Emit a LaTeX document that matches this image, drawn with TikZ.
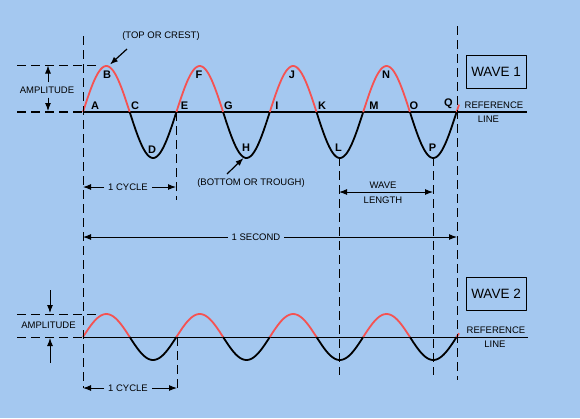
\documentclass[tikz,border=0pt]{standalone}
\usepackage{fontspec}
\setmainfont{Liberation Sans}
\usetikzlibrary{arrows.meta, positioning, calc}
\definecolor{SkyBg}{RGB}{164,200,240}
\definecolor{CrestRed}{RGB}{245,82,82}
\tikzset{every path/.style={line join=round}, >={Latex[length=8pt, width=6pt]}}

\begin{document}
\begin{tikzpicture}[
    x=1pt, y=-1pt,
    font=\fontsize{9.5}{10}\selectfont,
    letter/.style={font=\fontsize{11}{12}\selectfont\bfseries, inner sep=0pt},
    tag/.style={inner sep=0pt},
    label/.style={inner sep=4pt},
    wavebox/.style={draw, line width=1pt, minimum width=60pt, minimum height=33pt,
        inner sep=0pt, font=\fontsize{13.5}{14}\selectfont},
    guide/.style={dash pattern=on 9pt off 5pt, line width=1pt},
    flow/.style={->, line width=1pt},
    crest/.style={draw=CrestRed, line width=1.8pt},
    trough/.style={draw=black, line width=1.8pt},
    refline/.style={line width=1.8pt}
]

\fill[SkyBg] (0,0) rectangle (580,418);
\useasboundingbox (0,0) rectangle (580,418);

% wave 1
\coordinate (oneA) at (83,112);
\coordinate (oneEnd) at (527,112);
\draw[refline] (oneA) -- (oneEnd);
\foreach \k in {0,...,3}{
    \pgfmathsetmacro\xa{83+93.4*\k}
    \pgfmathsetmacro\xb{\xa+46.7}
    \pgfmathsetmacro\xc{\xa+93.4}
    \draw[crest] plot[domain=\xa:\xb, samples=30] (\x, {112-46*sin(3.8544*(\x-83))});
    \draw[trough] plot[domain=\xb:\xc, samples=30] (\x, {112-46*sin(3.8544*(\x-83))});
}
\draw[crest] plot[domain=456.6:459, samples=4] (\x, {112-46*sin(3.8544*(\x-83))});

% wave 2
\coordinate (twoA) at (83,337);
\coordinate (twoEnd) at (528,337);
\draw[line width=1pt] (twoA) -- (twoEnd);
\foreach \k in {0,...,3}{
    \pgfmathsetmacro\xa{83+93.4*\k}
    \pgfmathsetmacro\xb{\xa+46.7}
    \pgfmathsetmacro\xc{\xa+93.4}
    \draw[crest] plot[domain=\xa:\xb, samples=30] (\x, {337-23*sin(3.8544*(\x-83))});
    \draw[trough] plot[domain=\xb:\xc, samples=30] (\x, {337-23*sin(3.8544*(\x-83))});
}
\draw[crest] plot[domain=456.6:459, samples=4] (\x, {337-23*sin(3.8544*(\x-83))});

% guide lines
\coordinate (gA1) at (83,36);   \coordinate (gA2) at (83,388);
\coordinate (gE1) at (176,112); \coordinate (gE2) at (176,200);
\coordinate (gL1) at (339,157); \coordinate (gL2) at (339,375);
\coordinate (gP1) at (433,157); \coordinate (gP2) at (433,375);
\coordinate (gQ1) at (457,26);  \coordinate (gQ2) at (457,380);
\coordinate (gC1) at (177,337); \coordinate (gC2) at (177,388);
\draw[guide] (gA1) -- (gA2);
\draw[guide] (gE1) -- (gE2);
\draw[guide] (gL1) -- (gL2);
\draw[guide] (gP1) -- (gP2);
\draw[guide] (gQ1) -- (gQ2);
\draw[guide] (gC1) -- (gC2);

% amplitude guides
\coordinate (ampTopL) at (17,65);  \coordinate (ampTopR) at (100,65);
\coordinate (ampBotL) at (17,112);
\draw[guide] (ampTopL) -- (ampTopR);
\draw[guide, line width=2pt] (ampBotL) -- (oneA);
\coordinate (ampTwoTopL) at (17,314); \coordinate (ampTwoTopR) at (97,314);
\coordinate (ampTwoBotL) at (17,337);
\draw[guide] (ampTwoTopL) -- (ampTwoTopR);
\draw[guide] (ampTwoBotL) -- (twoA);

% letters
\node[letter] (ptA) at (95,106) {A};
\node[letter] (ptB) at (107,75) {B};
\node[letter] (ptC) at (135,106) {C};
\node[letter] (ptD) at (152,150) {D};
\node[letter] (ptE) at (184.5,106) {E};
\node[letter] (ptF) at (199,74.5) {F};
\node[letter] (ptG) at (228.5,105.5) {G};
\node[letter] (ptH) at (246,148) {H};
\node[letter] (ptI) at (277,105.5) {I};
\node[letter] (ptJ) at (292,74.5) {J};
\node[letter] (ptK) at (322,105.5) {K};
\node[letter] (ptL) at (338.5,148) {L};
\node[letter] (ptM) at (374,105.5) {M};
\node[letter] (ptN) at (386,75) {N};
\node[letter] (ptO) at (414,106) {O};
\node[letter] (ptP) at (432.5,147.5) {P};
\node[letter] (ptQ) at (448.5,104) {Q};

% crest and trough notes
\node[tag] (crestNote) at (161,36) {(TOP OR CREST)};
\coordinate (crestTip) at (110,64.5);
\draw[flow, line width=1.2pt] (127,49) -- (crestTip);
\node[tag] (troughNote) at (251,183) {(BOTTOM OR TROUGH)};
\coordinate (troughTip) at (243.5,158);
\draw[flow, line width=1.2pt] (227,174) -- (troughTip);

% amplitude wave 1
\node[label] (ampOne) at (47,90) {AMPLITUDE};
\coordinate (ampOneTop) at (48,65.5);
\coordinate (ampOneBot) at (48,111);
\draw[flow] (ampOne.north -| ampOneTop) -- (ampOneTop);
\draw[flow] (ampOne.south -| ampOneBot) -- (ampOneBot);

% amplitude wave 2
\node[tag] (ampTwo) at (48.5,325.5) {AMPLITUDE};
\coordinate (ampTwoIn) at (50,313);
\coordinate (ampTwoOut) at (50,338);
\draw[flow] (50,290) -- (ampTwoIn);
\draw[flow] (50,363) -- (ampTwoOut);

% cycle, wave length, second
\coordinate (cycA) at (83,187);  \coordinate (cycE) at (176,187);
\node[label] (cycleOne) at (128,187) {1 CYCLE};
\draw[flow] (cycleOne) -- (cycA);
\draw[flow] (cycleOne) -- (cycE);

\coordinate (wlL) at (339,192);  \coordinate (wlP) at (433,192);
\draw[flow, <->] (wlL) -- (wlP);
\node[tag] (wlTop) at (383,185) {WAVE};
\node[tag] (wlBot) at (383,200) {LENGTH};

\coordinate (secA) at (83,237);  \coordinate (secQ) at (457,237);
\node[label] (second) at (256,237) {1 SECOND};
\draw[flow] (second) -- (secA);
\draw[flow] (second) -- (secQ);

\coordinate (cycTwoA) at (83,388);  \coordinate (cycTwoE) at (177,388);
\node[label] (cycleTwo) at (128,388) {1 CYCLE};
\draw[flow] (cycleTwo) -- (cycTwoA);
\draw[flow] (cycleTwo) -- (cycTwoE);

% boxes and reference labels
\node[wavebox] (waveOne) at (496,71.5) {WAVE 1};
\node[wavebox] (waveTwo) at (496,294) {WAVE 2};
\node[tag] (refOne) at (494,105.5) {REFERENCE};
\node[tag] (lineOne) at (488.5,119) {LINE};
\node[tag] (refTwo) at (496,330.5) {REFERENCE};
\node[tag] (lineTwo) at (495,344) {LINE};

\end{tikzpicture}
\end{document}
